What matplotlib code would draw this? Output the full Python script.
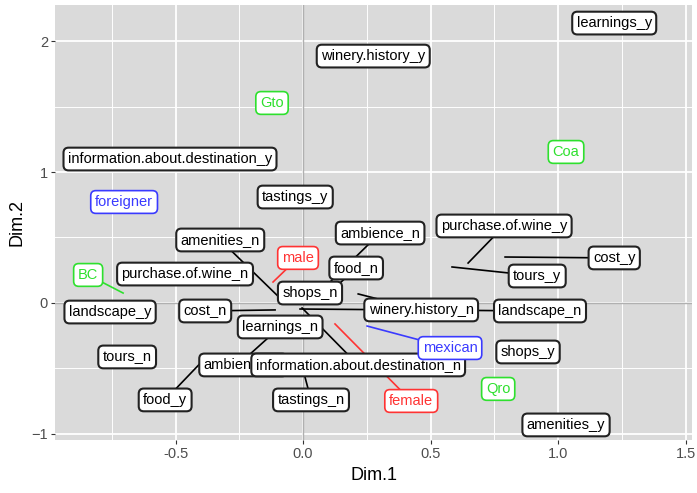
import matplotlib
matplotlib.use("Agg")
from matplotlib import pyplot as plt

# category labels: name, label position (dim1, dim2), point position (dim1, dim2)
names = ["learnings_y", "winery.history_y", "information.about.destination_y",
         "tastings_y", "amenities_n", "ambience_n", "purchase.of.wine_y",
         "cost_y", "food_n", "purchase.of.wine_n", "tours_y", "shops_n",
         "cost_n", "landscape_y", "winery.history_n", "landscape_n",
         "learnings_n", "shops_y", "tours_n", "ambience_y",
         "information.about.destination_n", "food_y", "tastings_n",
         "amenities_y"]
label_x = [1.220, 0.275, -0.522, -0.031, -0.325, 0.302, 0.788, 1.220, 0.208,
           -0.463, 0.918, 0.027, -0.384, -0.757, 0.463, 0.929, -0.090, 0.882,
           -0.690, -0.235, 0.216, -0.541, 0.031, 1.031]
label_y = [2.137, 1.885, 1.099, 0.809, 0.481, 0.534, 0.588, 0.344, 0.267,
           0.221, 0.206, 0.076, -0.061, -0.069, -0.053, -0.061, -0.183,
           -0.374, -0.412, -0.473, -0.473, -0.740, -0.740, -0.931]
point_x = [1.220, 0.275, -0.522, -0.031, -0.071, 0.102, 0.647, 0.792, 0.145,
           -0.463, 0.584, 0.027, -0.110, -0.757, 0.216, -0.012, -0.208, 0.882,
           -0.690, -0.235, -0.004, -0.376, 0.000, 1.031]
point_y = [2.137, 1.885, 1.099, 0.809, 0.000, 0.153, 0.305, 0.351, 0.153,
           0.221, 0.275, 0.076, -0.053, -0.069, 0.069, -0.046, -0.390,
           -0.374, -0.412, -0.473, -0.038, -0.405, -0.511, -0.931]

# supplementary variables
sup_names = ["Gto", "Coa", "foreigner", "male", "BC", "mexican", "Qro", "female"]
sup_group = ["region", "region", "origin", "sex", "region", "origin", "region", "sex"]
sup_label_x = [-0.122, 1.031, -0.702, -0.020, -0.843, 0.576, 0.765, 0.424]
sup_label_y = [1.527, 1.153, 0.771, 0.344, 0.214, -0.344, -0.656, -0.748]
sup_point_x = [-0.122, 1.031, -0.702, -0.118, -0.706, 0.251, 0.765, 0.125]
sup_point_y = [1.527, 1.153, 0.771, 0.160, 0.076, -0.176, -0.656, -0.160]
group_colors = {"region": "#2EE02E", "origin": "#3A3AFF", "sex": "#FF3333"}

font = "Liberation Sans"

fig = plt.figure(figsize=(6.97, 4.93), dpi=100)
ax = fig.add_axes([55 / 697, 53 / 493, 637 / 697, 435 / 493])
ax.set_facecolor("#DADADA")
for s in ax.spines.values():
    s.set_visible(False)

ax.set_xlim(-0.973, 1.525)
ax.set_ylim(-1.046, 2.275)
ax.set_xticks([-0.5, 0.0, 0.5, 1.0, 1.5])
ax.set_xticklabels(["-0.5", "0.0", "0.5", "1.0", "1.5"])
ax.set_yticks([-1, 0, 1, 2])
ax.set_xticks([-0.75, -0.25, 0.25, 0.75, 1.25], minor=True)
ax.set_yticks([-0.5, 0.5, 1.5], minor=True)
ax.grid(True, which="major", color="white", linewidth=1.3)
ax.grid(True, which="minor", color="white", linewidth=0.7)
ax.set_axisbelow(True)
ax.tick_params(which="major", length=3, color="#333333", labelcolor="#4D4D4D",
               labelsize=10.5, pad=2)
ax.tick_params(which="minor", length=0)
for lab in ax.get_xticklabels() + ax.get_yticklabels():
    lab.set_family(font)

ax.axhline(0, color="#B0B0B0", linewidth=1.0, zorder=1)
ax.axvline(0, color="#B0B0B0", linewidth=1.0, zorder=1)

ax.set_xlabel("Dim.1", family=font, fontsize=13, labelpad=4)
ax.set_ylabel("Dim.2", family=font, fontsize=13, labelpad=4)

# segments first, so the labels sit on top of them
for px, py, lx, ly in zip(point_x, point_y, label_x, label_y):
    ax.plot([px, lx], [py, ly], color="black", linewidth=1.2, zorder=2)
for px, py, lx, ly, g in zip(sup_point_x, sup_point_y, sup_label_x,
                             sup_label_y, sup_group):
    ax.plot([px, lx], [py, ly], color=group_colors[g], linewidth=1.2, zorder=2)

z = 3
for name, lx, ly in zip(names, label_x, label_y):
    ax.text(lx, ly, name, ha="center", va="center", family=font,
            fontsize=10.5, color="black", zorder=z,
            bbox=dict(boxstyle="round,pad=0.3,rounding_size=0.35",
                      facecolor="white", edgecolor="#222222", linewidth=1.5))
    z += 0.01
for name, lx, ly, g in zip(sup_names, sup_label_x, sup_label_y, sup_group):
    c = group_colors[g]
    ax.text(lx, ly, name, ha="center", va="center", family=font,
            fontsize=10.5, color=c, zorder=z,
            bbox=dict(boxstyle="round,pad=0.3,rounding_size=0.35",
                      facecolor="white", edgecolor=c, linewidth=1.2))
    z += 0.01

plt.savefig("out.png", dpi=100)
